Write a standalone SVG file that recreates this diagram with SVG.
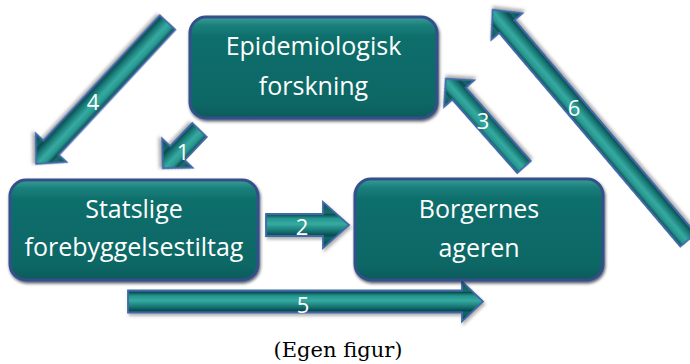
<svg xmlns="http://www.w3.org/2000/svg" width="690" height="364" viewBox="0 0 690 364">
  <defs>
    <linearGradient id="nodeFill" x1="0" y1="0" x2="0" y2="1">
      <stop offset="0" stop-color="#3a9f98"/>
      <stop offset="0.08" stop-color="#1b807c"/>
      <stop offset="0.2" stop-color="#0d6e6b"/>
      <stop offset="0.85" stop-color="#0a6865"/>
      <stop offset="1" stop-color="#0a5a5c"/>
    </linearGradient>
    <linearGradient id="arrowFill" x1="0" y1="0" x2="0" y2="1">
      <stop offset="0" stop-color="#0c4f53"/>
      <stop offset="0.24" stop-color="#176f6d"/>
      <stop offset="0.27" stop-color="#0d4c53"/>
      <stop offset="0.36" stop-color="#25978f"/>
      <stop offset="0.48" stop-color="#36aaa1"/>
      <stop offset="0.62" stop-color="#187a76"/>
      <stop offset="0.73" stop-color="#0b4850"/>
      <stop offset="0.78" stop-color="#12686a"/>
      <stop offset="1" stop-color="#0a464d"/>
    </linearGradient>
    <filter id="nodeShadow" x="-10%" y="-10%" width="120%" height="130%">
      <feDropShadow dx="1" dy="2" stdDeviation="1.5" flood-color="#101a2a" flood-opacity="0.7"/>
    </filter>
    <filter id="arrowShadow" x="-20%" y="-20%" width="140%" height="140%">
      <feDropShadow dx="1.5" dy="2.5" stdDeviation="1.8" flood-color="#555" flood-opacity="0.45"/>
    </filter>
    <style>
      .node rect { fill: url(#nodeFill); stroke: #34508a; stroke-width: 3; filter: url(#nodeShadow); }
      .node text { fill: #ffffff; font-family: "Open Sans", "Noto Sans", sans-serif; font-size: 25px; text-anchor: middle; }
      .arrow path { fill: url(#arrowFill); stroke: #4169a8; stroke-width: 1.8; stroke-linejoin: miter; filter: url(#arrowShadow); }
      .num { fill: #ffffff; font-family: "Open Sans", "Noto Sans", sans-serif; font-size: 22px; text-anchor: middle; }
      .caption { fill: #000000; font-family: "DejaVu Serif", "Liberation Serif", serif; font-size: 21px; text-anchor: middle; }
    </style>
  </defs>

  <g id="connectors">
    <g id="arrow4" class="arrow" transform="translate(167.5,22.5) rotate(132.9)">
      <path d="M0,-10.5 L171,-10.5 L171,-21 L193,0 L171,21 L171,10.5 L0,10.5 Z"/>
    </g>
    <g id="arrow1" class="arrow" transform="translate(199.5,130) rotate(133.8)">
      <path d="M0,-10 L32,-10 L32,-21 L53,0 L32,21 L32,10 L0,10 Z"/>
    </g>
    <g id="arrow3" class="arrow" transform="translate(524,167) rotate(228.5)">
      <path d="M0,-9 L98,-9 L98,-20 L118,0 L98,20 L98,9 L0,9 Z"/>
    </g>
    <g id="arrow6" class="arrow" transform="translate(688,240) rotate(229.7)">
      <path d="M0,-10 L280,-10 L280,-20.5 L302,0 L280,20.5 L280,10 L0,10 Z"/>
    </g>
    <g id="arrow2" class="arrow" transform="translate(266,225)">
      <path d="M0,-11 L57,-11 L57,-23 L83,0 L57,23 L57,11 L0,11 Z"/>
    </g>
    <g id="arrow5" class="arrow" transform="translate(128,301.5)">
      <path d="M0,-11 L334,-11 L334,-20 L355,0 L334,20 L334,11 L0,11 Z"/>
    </g>
    <text class="num" x="93" y="110">4</text>
    <text class="num" x="183" y="160">1</text>
    <text class="num" x="483" y="129">3</text>
    <text class="num" x="574" y="116">6</text>
    <text class="num" x="302" y="235">2</text>
    <text class="num" x="303" y="313">5</text>
  </g>

  <g id="node-epidemiologisk" class="node">
    <rect x="190" y="17" width="247" height="101" rx="16" ry="16"/>
    <text x="313.5" y="55">Epidemiologisk</text>
    <text x="313.5" y="95">forskning</text>
  </g>
  <g id="node-statslige" class="node">
    <rect x="10" y="180" width="248" height="100" rx="16" ry="16"/>
    <text x="134" y="218">Statslige</text>
    <text x="134" y="256">forebyggelsestiltag</text>
  </g>
  <g id="node-borgernes" class="node">
    <rect x="355" y="179" width="248" height="101" rx="16" ry="16"/>
    <text x="479" y="218">Borgernes</text>
    <text x="479" y="257">ageren</text>
  </g>

  <text class="caption" x="338" y="357">(Egen figur)</text>
</svg>
